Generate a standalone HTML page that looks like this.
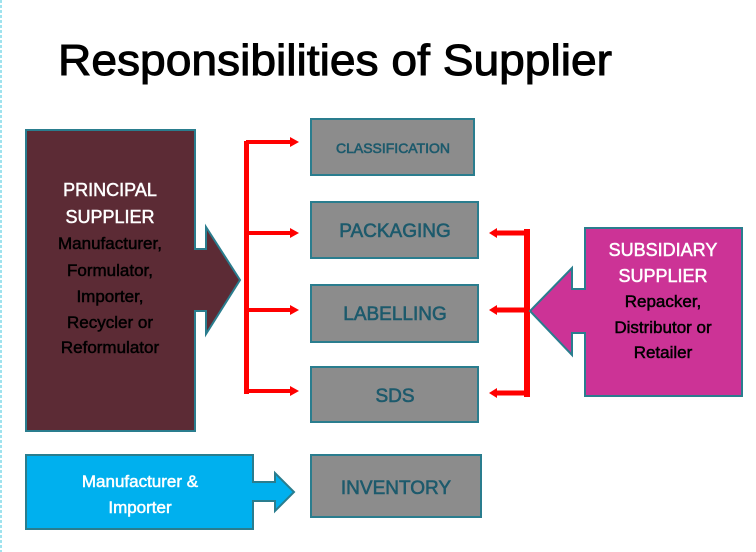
<!DOCTYPE html>
<html><head><meta charset="utf-8"><style>
html,body{margin:0;padding:0;background:#fff;}
svg{display:block;font-family:"Liberation Sans",sans-serif;}
</style></head><body>
<svg width="756" height="552" viewBox="0 0 756 552" xmlns="http://www.w3.org/2000/svg">
<rect width="756" height="552" fill="#fff"/>
<line x1="1" y1="0" x2="1" y2="552" stroke="#9fe3ee" stroke-width="2" stroke-dasharray="3,2"/>
<text x="58" y="75" font-size="44" textLength="554" lengthAdjust="spacingAndGlyphs" fill="#000" stroke="#000" stroke-width="1">Responsibilities of Supplier</text>

<!-- principal -->
<path d="M26,130 H195 V249 H206 V227 L240,280 L206,334 V311 H195 V431 H26 Z" fill="#5c2b35" stroke="#2a7d8e" stroke-width="2"/>
<g font-size="17" text-anchor="middle" stroke-width="0.5">
<text x="110" y="196" fill="#fff" stroke="#fff" font-size="18">PRINCIPAL</text>
<text x="110" y="223" fill="#fff" stroke="#fff" font-size="18">SUPPLIER</text>
<text x="110" y="249" stroke="#000">Manufacturer,</text>
<text x="110" y="276" stroke="#000">Formulator,</text>
<text x="110" y="302" stroke="#000">Importer,</text>
<text x="110" y="328" stroke="#000">Recycler or</text>
<text x="110" y="353" stroke="#000">Reformulator</text>
</g>

<!-- left bracket -->
<g stroke="#ff0000" fill="none">
<line x1="246.5" y1="141" x2="246.5" y2="394" stroke-width="5"/>
<line x1="246" y1="142" x2="292" y2="142" stroke-width="4"/>
<line x1="246" y1="233" x2="292" y2="233" stroke-width="4"/>
<line x1="246" y1="310" x2="292" y2="310" stroke-width="4"/>
<line x1="246" y1="391" x2="292" y2="391" stroke-width="4"/>
</g>
<g fill="#ff0000">
<path d="M290,137 L299,142 L290,147 Z"/>
<path d="M290,228 L299,233 L290,238 Z"/>
<path d="M290,305 L299,310 L290,315 Z"/>
<path d="M290,386 L299,391 L290,396 Z"/>
</g>

<!-- grey boxes -->
<g fill="#8c8c8c" stroke="#2a7d8e" stroke-width="2">
<rect x="311" y="119" width="163" height="56"/>
<rect x="311" y="202" width="167" height="56"/>
<rect x="311" y="285" width="167" height="57"/>
<rect x="311" y="367" width="167" height="55"/>
<rect x="311" y="455" width="170" height="62"/>
</g>
<g fill="#1d5a6c" stroke="#1d5a6c" stroke-width="0.6" text-anchor="middle">
<text x="393" y="153" font-size="14">CLASSIFICATION</text>
<text x="395" y="237" font-size="19">PACKAGING</text>
<text x="395" y="320" font-size="19">LABELLING</text>
<text x="395" y="402" font-size="19">SDS</text>
<text x="396" y="494" font-size="19">INVENTORY</text>
</g>

<!-- right bracket -->
<g stroke="#ff0000" fill="none">
<line x1="527" y1="229" x2="527" y2="397" stroke-width="6"/>
<line x1="495" y1="233" x2="527" y2="233" stroke-width="5"/>
<line x1="495" y1="310" x2="527" y2="310" stroke-width="5"/>
<line x1="495" y1="393" x2="527" y2="393" stroke-width="5"/>
</g>
<g fill="#ff0000">
<path d="M497,228 L489,233 L497,238 Z"/>
<path d="M497,305 L489,310 L497,315 Z"/>
<path d="M497,388 L489,393 L497,398 Z"/>
</g>

<!-- subsidiary -->
<path d="M585,228 H742 V396 H585 V333 H572 V355 L530,311 L572,268 V289 H585 Z" fill="#cc3396" stroke="#2a7d8e" stroke-width="2"/>
<g font-size="17" text-anchor="middle" stroke-width="0.5">
<text x="663" y="256" fill="#fff" stroke="#fff" font-size="18">SUBSIDIARY</text>
<text x="663" y="282" fill="#fff" stroke="#fff" font-size="18">SUPPLIER</text>
<text x="663" y="307" stroke="#000">Repacker,</text>
<text x="663" y="333" stroke="#000">Distributor or</text>
<text x="663" y="358" stroke="#000">Retailer</text>
</g>

<!-- manufacturer & importer -->
<path d="M26,455 H253 V482 H275 V473 L294,492 L275,511 V501 H253 V529 H26 Z" fill="#00b0ee" stroke="#2a7d8e" stroke-width="2"/>
<g font-size="17" fill="#fff" stroke="#fff" stroke-width="0.5" text-anchor="middle">
<text x="140" y="487">Manufacturer &amp;</text>
<text x="140" y="513">Importer</text>
</g>
</svg>
</body></html>
